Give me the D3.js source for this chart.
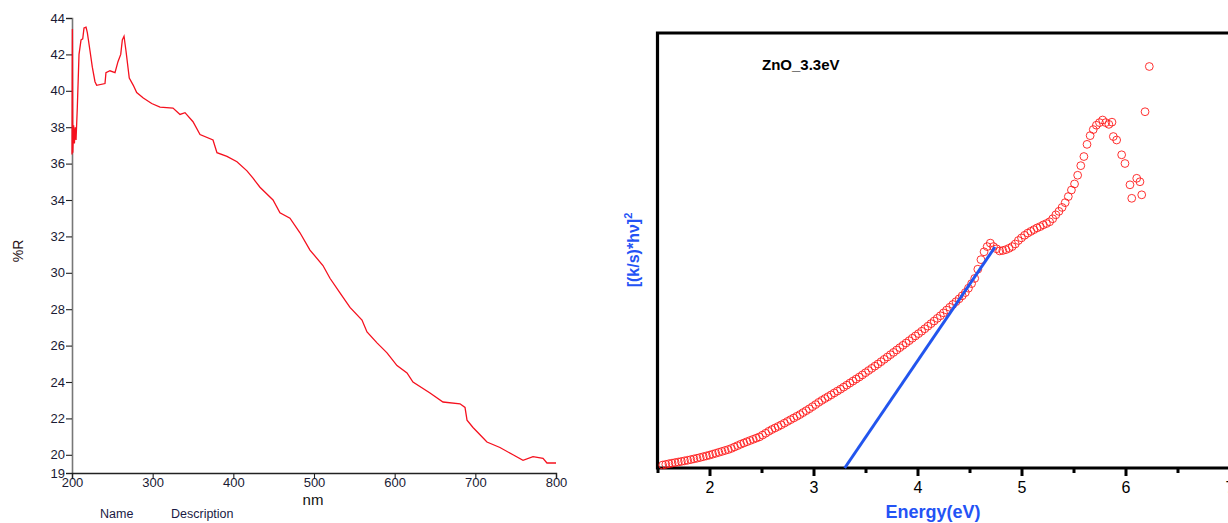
<!DOCTYPE html>
<html><head><meta charset="utf-8">
<script src="https://cdn.jsdelivr.net/npm/d3@7"></script>
<style>body{margin:0;background:#fff;}svg{display:block;}</style>
</head><body>
<svg id="c" width="1228" height="523"></svg>
<script>
// ---- Left panel: reflectance spectrum ----
const wavelength = [200,200.5,201,202,203,204,205,206.6,208.7,211.2,213.3,214.9,217.4,219,222.3,225.2,228.5,230.6,240.9,242.1,247.1,253.3,257,260.4,262.4,264.5,266.9,271,276,280.2,288.4,298.8,309.1,325.2,333.9,340.1,350,358.7,374.8,379.7,392.1,404.5,416.9,424.4,433,449.2,457.8,470.2,482.6,495,511.1,519.8,532.2,544.6,559.5,565.7,578.1,590.5,602.9,615.3,622.7,643.8,659.9,681,687.2,689.7,697.1,705.8,714.4,730.5,746.7,759.1,771.5,783.9,788.8,800];
const reflect = [36.5,43.4,36.6,38.1,37.1,38.0,37.3,39.1,42.0,42.8,42.85,43.45,43.5,43.2,42.2,41.3,40.5,40.3,40.4,41.0,41.1,41.0,41.6,42.0,42.8,43.0,42.2,40.7,40.3,39.9,39.6,39.3,39.1,39.05,38.7,38.8,38.3,37.6,37.3,36.6,36.4,36.1,35.6,35.2,34.7,34.0,33.3,33.0,32.2,31.25,30.4,29.7,28.9,28.1,27.4,26.75,26.15,25.6,24.9,24.5,24.0,23.4,22.9,22.8,22.6,21.9,21.5,21.1,20.7,20.4,20.0,19.7,19.9,19.8,19.55,19.55];
const leftXTicks = [200,300,400,500,600,700,800];
const leftYTicks = [19,20,22,24,26,28,30,32,34,36,38,40,42,44];

// ---- Right panel: Tauc plot ----
const energy = [1.55,1.58,1.61,1.64,1.67,1.70,1.73,1.76,1.79,1.82,1.85,1.88,1.91,1.94,1.97,2.00,2.03,2.06,2.09,2.12,2.15,2.18,2.21,2.24,2.27,2.30,2.33,2.36,2.39,2.42,2.45,2.48,2.51,2.54,2.57,2.60,2.63,2.66,2.69,2.72,2.75,2.78,2.81,2.84,2.87,2.90,2.93,2.96,2.99,3.02,3.05,3.08,3.11,3.14,3.17,3.20,3.23,3.26,3.29,3.32,3.35,3.38,3.41,3.44,3.47,3.50,3.53,3.56,3.59,3.62,3.65,3.68,3.71,3.74,3.77,3.80,3.83,3.86,3.89,3.92,3.95,3.98,4.01,4.04,4.07,4.10,4.13,4.16,4.19,4.22,4.25,4.28,4.31,4.34,4.37,4.40,4.43,4.46,4.49,4.52,4.55,4.58,4.61,4.64,4.67,4.70,4.73,4.76,4.79,4.82,4.85,4.88,4.91,4.94,4.97,5.00,5.03,5.06,5.09,5.12,5.15,5.18,5.21,5.24,5.27,5.30,5.33,5.36,5.39,5.42,5.45,5.48,5.51,5.54,5.57,5.60,5.63,5.66,5.69,5.72,5.75,5.78,5.81,5.84,5.87,5.883,5.915,5.963,5.995,6.043,6.060,6.108,6.139,6.156,6.188,6.229];
const tauc = [0.68,0.83,0.98,1.12,1.25,1.38,1.51,1.65,1.78,1.93,2.09,2.25,2.42,2.60,2.78,2.96,3.17,3.38,3.60,3.81,4.03,4.24,4.50,4.82,5.14,5.46,5.75,6.04,6.32,6.59,6.87,7.15,7.56,7.99,8.44,8.84,9.20,9.55,9.92,10.31,10.71,11.11,11.50,11.89,12.29,12.74,13.18,13.62,14.10,14.58,15.09,15.54,15.97,16.39,16.82,17.26,17.69,18.12,18.59,19.05,19.53,19.99,20.45,20.91,21.40,21.91,22.41,22.91,23.41,23.91,24.44,24.98,25.51,26.05,26.58,27.13,27.67,28.20,28.74,29.27,29.83,30.36,30.89,31.44,32.01,32.60,33.19,33.79,34.40,35.00,35.66,36.31,36.95,37.59,38.23,38.89,39.59,40.33,41.33,42.39,43.58,45.7,47.9,49.7,50.9,51.7,50.9,50.4,49.9,50.0,50.2,50.5,50.9,51.5,52.3,52.9,53.5,54.0,54.4,54.8,55.2,55.5,55.9,56.2,56.6,57.3,58.2,59.0,59.9,61.0,62.4,63.9,65.3,67.3,69.5,71.6,74.4,76.4,77.8,78.8,79.4,80.0,79.4,79.0,79.5,76.2,75.4,72.0,70.0,65.1,62.0,66.6,65.8,62.8,81.9,92.3];
const fitLineE = [3.3, 4.745];
const fitLineV = [0, 50.8];
const rightMajorTicks = [2,3,4,5,6,7];
const rightMinorTicks = [1.5,2.5,3.5,4.5,5.5,6.5];

const svg = d3.select('#c');
const FONT = 'Liberation Sans, Arial, sans-serif';

// ===== Left panel =====
const lx = d3.scaleLinear().domain([200,800]).range([72,556]);
const ly = d3.scaleLinear().domain([19,44]).range([473,18]);
const gL = svg.append('g');

const yAx = gL.append('g').attr('transform','translate(72,0)')
  .call(d3.axisLeft(ly).tickValues(leftYTicks).tickSize(6).tickPadding(1).tickFormat(d3.format('d')));
yAx.select('.domain').attr('stroke','#777').attr('stroke-width',1.6);
yAx.selectAll('.tick line').attr('stroke','#222').attr('stroke-width',1.1);
yAx.selectAll('text').attr('font-family',FONT).attr('font-size',13).attr('fill','#1a1a33');

const xAx = gL.append('g').attr('transform','translate(0,473)')
  .call(d3.axisBottom(lx).tickValues(leftXTicks).tickSize(6).tickPadding(-1).tickFormat(d3.format('d')));
xAx.select('.domain').attr('stroke','#222').attr('stroke-width',1.4);
xAx.selectAll('.tick line').attr('stroke','#222').attr('stroke-width',1.1);
xAx.selectAll('text').attr('font-family',FONT).attr('font-size',13).attr('fill','#1a1a33');

gL.append('path')
  .datum(wavelength.map((w,i)=>[w,reflect[i]]))
  .attr('fill','none').attr('stroke','#f5101e').attr('stroke-width',1.3)
  .attr('d', d3.line().x(d=>lx(d[0])).y(d=>ly(d[1])));

gL.append('text').attr('x',313).attr('y',505).attr('text-anchor','middle')
  .attr('font-family',FONT).attr('font-size',15).attr('fill','#111').text('nm');
gL.append('text').attr('transform','translate(23,251) rotate(-90)').attr('text-anchor','middle')
  .attr('font-family',FONT).attr('font-size',14).attr('fill','#2a1418').text('%R');
gL.append('text').attr('x',100).attr('y',518)
  .attr('font-family',FONT).attr('font-size',12.5).attr('fill','#1a1a44').text('Name');
gL.append('text').attr('x',171).attr('y',518)
  .attr('font-family',FONT).attr('font-size',12.5).attr('fill','#1a1a44').text('Description');

// ===== Right panel =====
const rx = d3.scaleLinear().domain([1.5,7]).range([657.5,1229.5]);
const ry = d3.scaleLinear().domain([0,100]).range([468,33]);
const gR = svg.append('g');

const minAx = gR.append('g').attr('transform','translate(0,468)')
  .call(d3.axisBottom(rx).tickValues(rightMinorTicks).tickSize(5).tickFormat(''));
minAx.select('.domain').remove();
minAx.selectAll('.tick line').attr('stroke','#000').attr('stroke-width',3);
const majAx = gR.append('g').attr('transform','translate(0,468)')
  .call(d3.axisBottom(rx).tickValues(rightMajorTicks).tickSize(8).tickPadding(6).tickFormat(d3.format('d')));
majAx.select('.domain').remove();
majAx.selectAll('.tick line').attr('stroke','#000').attr('stroke-width',3);
majAx.selectAll('text').attr('font-family',FONT).attr('font-size',16).attr('fill','#000');

const x0 = rx(1.5), x1 = rx(7), yb = ry(0), yt = ry(100);
gR.append('path').attr('fill','none').attr('stroke','#000').attr('stroke-width',3.2)
  .attr('d', `M${x1},${yt}H${x0}V${yb}H${x1}`);

gR.append('g').selectAll('circle').data(energy.map((e,i)=>[e,tauc[i]])).join('circle')
  .attr('cx',d=>rx(d[0])).attr('cy',d=>ry(d[1])).attr('r',3.9)
  .attr('fill','none').attr('stroke','#ff1a1a').attr('stroke-width',0.9);

gR.append('line')
  .attr('x1',rx(fitLineE[0])).attr('y1',ry(fitLineV[0]))
  .attr('x2',rx(fitLineE[1])).attr('y2',ry(fitLineV[1]))
  .attr('stroke','#2255ee').attr('stroke-width',3);

gR.append('text').attr('x',762).attr('y',70)
  .attr('font-family',FONT).attr('font-size',15).attr('font-weight','bold').attr('fill','#000').text('ZnO_3.3eV');

gR.append('text').attr('x',933).attr('y',518).attr('text-anchor','middle')
  .attr('font-family',FONT).attr('font-size',18).attr('font-weight','bold').attr('fill','#2453f5').text('Energy(eV)');

const yl = gR.append('text').attr('transform','translate(639,250) rotate(-90)').attr('text-anchor','middle')
  .attr('font-family',FONT).attr('font-size',16).attr('font-weight','bold').attr('fill','#2453f5');
yl.append('tspan').text('[(k/s)*h\u03BD]');
yl.append('tspan').attr('font-size',11).attr('dy',-7).text('2');
</script>
</body></html>
